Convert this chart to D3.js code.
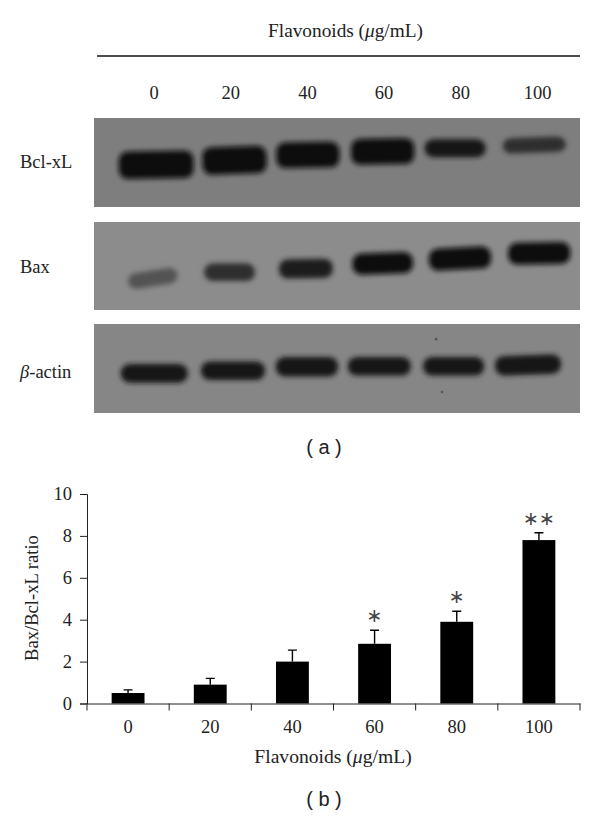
<!DOCTYPE html>
<html>
<head>
<meta charset="utf-8">
<title>Flavonoids Bax/Bcl-xL</title>
<script src="https://cdn.jsdelivr.net/npm/d3@7"></script>
<style>
html, body { margin: 0; background: #fff; }
svg { display: block; }
text { font-family: "Liberation Serif", serif; fill: #222; }
</style>
</head>
<body>
<div id="chart"></div>
<script>
// doses, shared by both panels
var doses = ["0", "20", "40", "60", "80", "100"];

// panel (a): band centre / width in blot widths, top / bottom in blot heights
var bclCenter = [0.128, 0.289, 0.440, 0.594, 0.743, 0.906];
var bclWidth = [0.154, 0.132, 0.130, 0.130, 0.126, 0.130];
var bclTop = [0.37, 0.32, 0.27, 0.23, 0.24, 0.22];
var bclBottom = [0.68, 0.63, 0.56, 0.52, 0.44, 0.39];
var bclDark = [1, 1, 1, 1, 0.95, 0.72];
var bclTilt = [-1, -2, -1, -1, 0, -2];

var baxCenter = [0.121, 0.279, 0.436, 0.594, 0.753, 0.916];
var baxWidth = [0.103, 0.105, 0.111, 0.125, 0.128, 0.128];
var baxTop = [0.55, 0.47, 0.42, 0.35, 0.29, 0.23];
var baxBottom = [0.73, 0.67, 0.64, 0.59, 0.54, 0.48];
var baxDark = [0.45, 0.75, 0.88, 1, 1, 1];
var baxTilt = [-9, 0, -1, -2, -3, -1];

var actinCenter = [0.124, 0.286, 0.438, 0.587, 0.740, 0.893];
var actinWidth = [0.138, 0.132, 0.128, 0.130, 0.126, 0.136];
var actinTop = [0.45, 0.42, 0.37, 0.37, 0.37, 0.35];
var actinBottom = [0.66, 0.63, 0.59, 0.58, 0.58, 0.57];
var actinDark = [0.95, 0.92, 0.92, 0.92, 0.92, 0.9];
var actinTilt = [0, 0, 0, 0, 0, -2];
var actinSpeckX = [0.704, 0.716];
var actinSpeckY = [0.17, 0.764];

// panel (b)
var ratio = [0.5, 0.9, 2.0, 2.85, 3.9, 7.8];
var ratioTop = [0.65, 1.2, 2.55, 3.5, 4.4, 8.15];
var marks = ["", "", "", "\u2217", "\u2217", "\u2217\u2217"];
var yTicks = [0, 2, 4, 6, 8, 10];

var svg = d3.select("#chart").append("svg").attr("width", 600).attr("height", 818);
var defs = svg.append("defs");
defs.append("filter").attr("id", "soft")
    .attr("x", "-20%").attr("y", "-60%").attr("width", "140%").attr("height", "220%")
    .append("feGaussianBlur").attr("stdDeviation", 2.4);

var blots = [
    { name: "Bcl-xL", y0: 118, y1: 207, base: 168, bg: "#7e7e7e", c: bclCenter, w: bclWidth, t: bclTop, b: bclBottom, d: bclDark, r: bclTilt },
    { name: "Bax", y0: 222, y1: 310, base: 273, bg: "#8c8c8c", c: baxCenter, w: baxWidth, t: baxTop, b: baxBottom, d: baxDark, r: baxTilt },
    { name: "-actin", y0: 324, y1: 413, base: 378, bg: "#868686", c: actinCenter, w: actinWidth, t: actinTop, b: actinBottom, d: actinDark, r: actinTilt }
];

var blotX = d3.scaleLinear().domain([0, 1]).range([94, 580]);

// header of panel (a)
svg.append("text").attr("x", 345.5).attr("y", 37).attr("text-anchor", "middle")
    .attr("font-size", 19.3).call(flavLabel);
svg.append("line").attr("x1", 97).attr("x2", 580).attr("y1", 56).attr("y2", 56)
    .attr("stroke", "#111").attr("stroke-width", 1.4);

var laneLabel = d3.scalePoint().domain(doses).range([154, 537.5]);
svg.selectAll(".lane").data(doses).enter().append("text")
    .attr("class", "lane")
    .attr("x", function(d) { return laneLabel(d); })
    .attr("y", 99)
    .attr("text-anchor", "middle").attr("font-size", 18.5)
    .text(function(d) { return d; });

blots.forEach(function(blot, i) {
    var y = d3.scaleLinear().domain([0, 1]).range([blot.y0, blot.y1]);
    var shade = d3.scaleLinear().domain([0, 1]).range([blot.bg, "#0d0d0d"]);
    var g = svg.append("g");
    g.append("rect")
        .attr("x", blotX(0)).attr("y", y(0))
        .attr("width", blotX(1) - blotX(0)).attr("height", y(1) - y(0))
        .attr("fill", blot.bg);
    var clipId = "blot" + i;
    defs.append("clipPath").attr("id", clipId).append("rect")
        .attr("x", blotX(0)).attr("y", y(0))
        .attr("width", blotX(1) - blotX(0)).attr("height", y(1) - y(0));
    g.append("g").attr("clip-path", "url(#" + clipId + ")")
        .selectAll("rect").data(doses).enter().append("rect")
        .attr("x", function(d, k) { return blotX(blot.c[k] - blot.w[k] / 2); })
        .attr("y", function(d, k) { return y(blot.t[k]); })
        .attr("width", function(d, k) { return blotX(blot.w[k]) - blotX(0); })
        .attr("height", function(d, k) { return y(blot.b[k]) - y(blot.t[k]); })
        .attr("rx", 9)
        .attr("fill", function(d, k) { return shade(blot.d[k]); })
        .attr("filter", "url(#soft)")
        .attr("transform", function(d, k) {
            return "rotate(" + blot.r[k] + " " + blotX(blot.c[k]) + " " + y((blot.t[k] + blot.b[k]) / 2) + ")";
        });
    if (i === 2) {
        g.selectAll("circle").data(actinSpeckX).enter().append("circle")
            .attr("cx", function(d) { return blotX(d); })
            .attr("cy", function(d, k) { return y(actinSpeckY[k]); })
            .attr("r", 1.3).attr("fill", "#555");
    }
    var label = svg.append("text").attr("x", 20).attr("y", blot.base).attr("font-size", 18.5);
    if (i === 2) label.append("tspan").attr("font-style", "italic").text("\u03b2");
    label.append("tspan").text(blot.name);
});

svg.append("text").attr("x", 324).attr("y", 454).attr("text-anchor", "middle")
    .attr("font-size", 20).style("font-family", "'Liberation Sans', sans-serif")
    .text("( a )");

// panel (b)
var x = d3.scaleBand().domain(doses).range([87, 580]);
var yRatio = d3.scaleLinear().domain([0, 10]).range([703.5, 494]);

var chart = svg.append("g");
chart.selectAll(".bar").data(ratio).enter().append("rect")
    .attr("class", "bar")
    .attr("x", function(d, i) { return x(doses[i]) + x.bandwidth() * 0.3; })
    .attr("width", x.bandwidth() * 0.4)
    .attr("y", function(d) { return yRatio(d); })
    .attr("height", function(d) { return yRatio(0) - yRatio(d); })
    .attr("fill", "#000");

// error bars, upper half only
chart.selectAll(".err").data(ratioTop).enter().append("path")
    .attr("class", "err")
    .attr("fill", "none").attr("stroke", "#000").attr("stroke-width", 1.4)
    .attr("d", function(d, i) {
        var cx = x(doses[i]) + x.bandwidth() / 2;
        return "M" + cx + "," + yRatio(ratio[i]) + "V" + yRatio(d) + "M" + (cx - 4.5) + "," + yRatio(d) + "H" + (cx + 4.5);
    });

chart.selectAll(".mark").data(marks).enter().append("text")
    .attr("class", "mark")
    .attr("x", function(d, i) { return x(doses[i]) + x.bandwidth() / 2; })
    .attr("y", function(d, i) { return yRatio(ratioTop[i]) - 8; })
    .attr("text-anchor", "middle").attr("font-size", 19)
    .style("font-family", "'DejaVu Sans', sans-serif")
    .style("fill", "#444")
    .text(function(d) { return d; });

var xAxis = chart.append("g").attr("transform", "translate(0," + yRatio(0) + ")")
    .call(d3.axisBottom(x).tickSize(0).tickPadding(16.5));
xAxis.selectAll(".tick text").attr("font-size", 18.5).style("font-family", "'Liberation Serif', serif").attr("fill", "#222");
xAxis.select(".domain").attr("stroke", "#222");
// ticks sit between the categories
var edges = d3.scaleLinear().domain([0, doses.length]).range(x.range());
xAxis.selectAll(".edge").data(d3.range(doses.length + 1)).enter().append("line")
    .attr("class", "edge")
    .attr("x1", function(d) { return edges(d); })
    .attr("x2", function(d) { return edges(d); })
    .attr("y1", 0).attr("y2", 7).attr("stroke", "#222");

var yAxis = chart.append("g").attr("transform", "translate(87,0)")
    .call(d3.axisLeft(yRatio).tickValues(yTicks).tickSize(7).tickPadding(8));
yAxis.selectAll(".tick text").attr("font-size", 18.5).style("font-family", "'Liberation Serif', serif").attr("fill", "#222");
yAxis.selectAll("line, .domain").attr("stroke", "#222");

svg.append("text").attr("transform", "translate(38,598) rotate(-90)")
    .attr("text-anchor", "middle").attr("font-size", 18.6).text("Bax/Bcl-xL ratio");
svg.append("text").attr("x", 333).attr("y", 763).attr("text-anchor", "middle")
    .attr("font-size", 19.6).call(flavLabel);
svg.append("text").attr("x", 324).attr("y", 806).attr("text-anchor", "middle")
    .attr("font-size", 20).style("font-family", "'Liberation Sans', sans-serif")
    .text("( b )");

function flavLabel(sel) {
    sel.append("tspan").text("Flavonoids (");
    sel.append("tspan").attr("font-style", "italic").text("\u03bc");
    sel.append("tspan").text("g/mL)");
}
</script>
</body>
</html>
